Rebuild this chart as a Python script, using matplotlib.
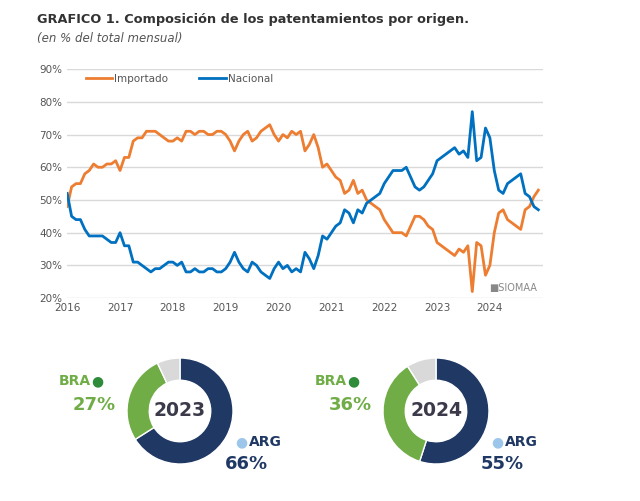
import numpy as np
import matplotlib.pyplot as plt

importado = [48, 54, 55, 55, 58, 59, 61, 60, 60, 61, 61, 62,
             59, 63, 63, 68, 69, 69, 71, 71, 71, 70, 69, 68,
             68, 69, 68, 71, 71, 70, 71, 71, 70, 70, 71, 71,
             70, 68, 65, 68, 70, 71, 68, 69, 71, 72, 73, 70,
             68, 70, 69, 71, 70, 71, 65, 67, 70, 66, 60, 61,
             59, 57, 56, 52, 53, 56, 52, 53, 50, 49, 48, 47,
             44, 42, 40, 40, 40, 39, 42, 45, 45, 44, 42, 41,
             37, 36, 35, 34, 33, 35, 34, 36, 22, 37, 36, 27,
             30, 40, 46, 47, 44, 43, 42, 41, 47, 48, 51, 53]
nacional = [52, 45, 44, 44, 41, 39, 39, 39, 39, 38, 37, 37,
            40, 36, 36, 31, 31, 30, 29, 28, 29, 29, 30, 31,
            31, 30, 31, 28, 28, 29, 28, 28, 29, 29, 28, 28,
            29, 31, 34, 31, 29, 28, 31, 30, 28, 27, 26, 29,
            31, 29, 30, 28, 29, 28, 34, 32, 29, 33, 39, 38,
            40, 42, 43, 47, 46, 43, 47, 46, 49, 50, 51, 52,
            55, 57, 59, 59, 59, 60, 57, 54, 53, 54, 56, 58,
            62, 63, 64, 65, 66, 64, 65, 63, 77, 62, 63, 72,
            69, 59, 53, 52, 55, 56, 57, 58, 52, 51, 48, 47]
x = 2016 + np.arange(len(importado)) / 12

donut_years = ["2023", "2024"]
arg = [66, 55]
bra = [27, 36]
otros = [7, 9]

orange = "#ed7d31"
blue = "#0070c0"
navy = "#1f3864"
green = "#70ad47"

W, H = 640, 501
fig = plt.figure(figsize=(6.4, 5.01), dpi=100)
fig.text(0.058, 0.955, "GRAFICO 1. Composición de los patentamientos por origen.",
         fontsize=9.3, fontweight="bold", color="#333333")
fig.text(0.058, 0.917, "(en % del total mensual)", fontsize=8.5, style="italic", color="#555555")

ax = fig.add_axes([0.105, 0.405, 0.743, 0.457])
ax.plot(x, importado, color=orange, lw=2, label="Importado")
ax.plot(x, nacional, color=blue, lw=2, label="Nacional")
ax.set_ylim(20, 90)
ax.set_xlim(2016, 2025)
ax.set_yticks(range(20, 91, 10))
ax.set_yticklabels([f"{v}%" for v in range(20, 91, 10)])
ax.set_xticks(range(2016, 2025))
ax.tick_params(labelsize=7.5, colors="#555555", length=0)
ax.grid(axis="y", color="#d9d9d9", lw=1)
ax.set_axisbelow(True)
for s in ax.spines.values():
    s.set_visible(False)
ax.legend(loc="upper left", bbox_to_anchor=(0.02, 1.02), ncol=2, frameon=False,
          fontsize=7.5, handlelength=2.5, handletextpad=0.2, columnspacing=3, labelcolor="#555555")
ax.text(2024.9, 21.5, "■SIOMAA", ha="right", va="bottom", fontsize=7, color="#888888")

centers_px = [180, 436]
cy = 411
R = 53
for i, cx in enumerate(centers_px):
    dax = fig.add_axes([(cx - R) / W, 1 - (cy + R) / H, 2 * R / W, 2 * R / H])
    dax.pie([arg[i], bra[i], otros[i]], colors=[navy, green, "#d9d9d9"], startangle=90,
            counterclock=False, radius=1,
            wedgeprops=dict(width=0.42, edgecolor="white", linewidth=1))
    dax.set_xlim(-1, 1)
    dax.set_ylim(-1, 1)
    dax.text(0, 0, donut_years[i], ha="center", va="center", fontsize=13.5,
             fontweight="bold", color="#3a3a4a")

    def ft(px, py, s, **kw):
        fig.text(px / W, 1 - py / H, s, ha="center", va="center", **kw)

    ft(cx - 105, 381, "BRA", fontsize=10, fontweight="bold", color=green)
    ft(cx - 83, 381, "●", fontsize=10, color="#2e8b3a")
    ft(cx - 86, 405, f"{bra[i]}%", fontsize=13, fontweight="bold", color=green)
    ft(cx + 85, 442, "ARG", fontsize=10, fontweight="bold", color=navy)
    ft(cx + 61, 442, "●", fontsize=10, color="#9cc7ea")
    ft(cx + 66, 464, f"{arg[i]}%", fontsize=13, fontweight="bold", color=navy)

fig.savefig("out.png", dpi=100)
